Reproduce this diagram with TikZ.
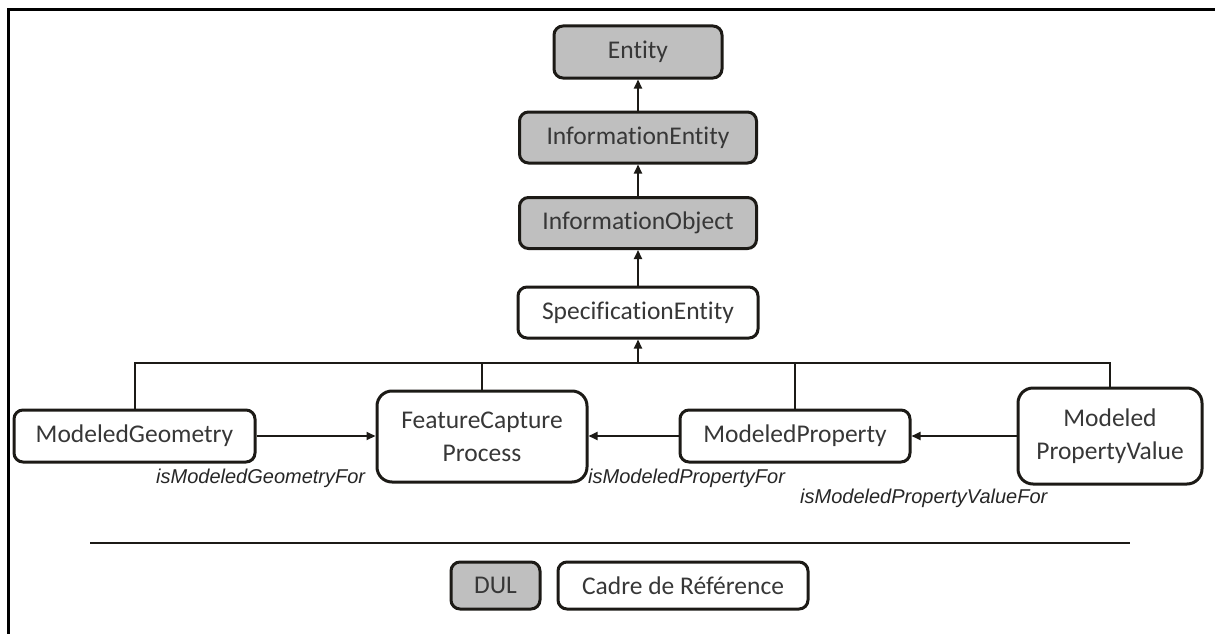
\documentclass[tikz,border=0pt]{standalone}
\usepackage{fontspec}
\setmainfont[Ligatures={NoCommon}]{Carlito}
\newfontfamily\labelfont{Liberation Sans}
\usetikzlibrary{arrows.meta}
\definecolor{duLgray}{RGB}{191,191,191}
\definecolor{boxline}{RGB}{28,26,22}
\definecolor{txtgray}{RGB}{55,55,55}
\begin{document}
\begin{tikzpicture}[x=1pt,y=-1pt,
  box/.style={draw=boxline,line width=3pt,rounded corners=9pt,inner sep=0pt,
    text=txtgray,font=\fontsize{25.5}{33}\selectfont,align=center},
  dulbox/.style={box,fill=duLgray},
  bigbox/.style={box,rounded corners=15pt},
  conn/.style={draw=boxline,line width=2pt},
  arr/.style={conn,-{Triangle[length=9pt,width=8pt]}},
  rel/.style={anchor=west,inner sep=0pt,text=black!85,font=\labelfont\itshape\fontsize{20}{24}\selectfont}
]
\useasboundingbox (0,0) rectangle (1215,634);
\draw[line width=3pt,black] (8,634) -- (8,10) -- (1215,10);

\node[dulbox,minimum width=168pt,minimum height=52pt] (ent) at (638,52) {Entity};
\node[dulbox,minimum width=237pt,minimum height=51pt] (ient) at (638,137.5) {InformationEntity};
\node[dulbox,minimum width=237pt,minimum height=51pt] (iobj) at (638,223) {InformationObject};
\node[box,minimum width=240pt,minimum height=51pt] (spec) at (638,312.5) {SpecificationEntity};

\node[box,minimum width=241pt,minimum height=52pt] (mg) at (134.5,436) {ModeledGeometry};
\node[bigbox,minimum width=210pt,minimum height=91pt] (fcp) at (482,436.5) {FeatureCapture\\Process};
\node[box,minimum width=230pt,minimum height=52pt] (mp) at (795,436) {ModeledProperty};
\node[bigbox,minimum width=184pt,minimum height=96pt] (mpv) at (1110,436) {Modeled\\PropertyValue};

\coordinate (bus) at (638,363);

\draw[arr] (ient.north) -- (ent.south);
\draw[arr] (iobj.north) -- (ient.south);
\draw[arr] (spec.north) -- (iobj.south);
\draw[arr] (bus) -- (spec.south);
\draw[conn] (mg.north) |- (bus -| mpv.north) -- (mpv.north);
\draw[conn] (fcp.north) -- (fcp.north |- bus);
\draw[conn] (mp.north) -- (mp.north |- bus);

\draw[arr] (mg.east) -- (mg.east -| fcp.west);
\draw[arr] (mp.west) -- (mp.west -| fcp.east);
\draw[arr] (mpv.west) -- (mpv.west -| mp.east);

\node[rel] (l1) at (156,478) {isModeledGeometryFor};
\node[rel] (l2) at (588,478) {isModeledPropertyFor};
\node[rel] (l3) at (800,498) {isModeledPropertyValueFor};

\draw[line width=2pt,boxline] (90,543) -- (1130,543);

\node[dulbox,minimum width=89pt,minimum height=47pt] (dul) at (495.5,585.5) {DUL};
\node[box,minimum width=250pt,minimum height=47pt] (cadre) at (683,585.5) {Cadre de Référence};
\end{tikzpicture}
\end{document}
